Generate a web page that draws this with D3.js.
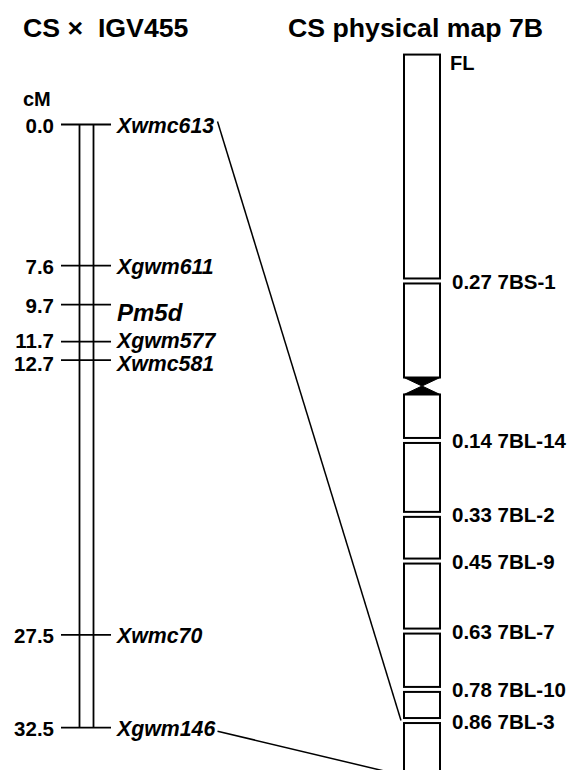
<!DOCTYPE html>
<html><head><meta charset="utf-8">
<script src="https://cdn.jsdelivr.net/npm/d3@7"></script>
<style>
html,body{margin:0;padding:0;background:#fff;}
svg{display:block;font-family:"Liberation Sans",Arial,Helvetica,sans-serif;}
text{white-space:pre;}
</style></head>
<body>
<svg id="chart" width="581" height="770"></svg>
<script>
// ---- genetic map data (CS x IGV455) ----
const markerNames = ["Xwmc613","Xgwm611","Pm5d","Xgwm577","Xwmc581","Xwmc70","Xgwm146"];
const markerCM    = [0.0, 7.6, 9.7, 11.7, 12.7, 27.5, 32.5];
const markerLabels = ["0.0","7.6","9.7","11.7","12.7","27.5","32.5"];
const geneMarker = "Pm5d";
// small label nudges (px) used to keep the two crowded labels apart
const labelNudge = [0, 0, 0, -2.5, 2, 0, 0];

// ---- physical map data (CS deletion bins, 7B) ----
// fraction-length breakpoints; negative = short arm, positive = long arm (centromere = 0)
const breakLabels = ["0.27 7BS-1","0.14 7BL-14","0.33 7BL-2","0.45 7BL-9","0.63 7BL-7","0.78 7BL-10","0.86 7BL-3"];
const breakFL     = [-0.27, 0.14, 0.33, 0.45, 0.63, 0.78, 0.86];
const shortArmEnd = -0.852;   // short-arm terminus relative to long arm length
const longArmEnd  = 1.0;
// connecting lines: marker -> physical position
const linkMarkers = ["Xwmc613","Xgwm146"];
const linkFL      = [0.86, 1.0];

const titles = ["CS \u00D7  IGV455", "CS physical map 7B"];

const svg = d3.select("#chart");

// scales
const yG = d3.scaleLinear().domain([0, 32.5]).range([124.5, 727.7]);
const yP = d3.scaleLinear().domain([0, 1]).range([386, 775]);

// titles
svg.append("text").attr("x", 23).attr("y", 37).attr("font-size", 26.7).attr("font-weight", "bold").text(titles[0]);
svg.append("text").attr("x", 288).attr("y", 37).attr("font-size", 26.7).attr("font-weight", "bold").text(titles[1]);

// ---------- genetic map ----------
const gx1 = 79.5, gx2 = 93.5, tickL = 61, tickR = 111;
const g = svg.append("g");
g.append("text").attr("x", 23).attr("y", 106).attr("font-size", 20).attr("font-weight", "bold").text("cM");
[gx1, gx2].forEach(x => g.append("line").attr("x1", x).attr("x2", x)
  .attr("y1", yG(d3.min(markerCM))).attr("y2", yG(d3.max(markerCM)))
  .attr("stroke", "#000").attr("stroke-width", 1.8));

const rows = markerNames.map((n, i) => ({name: n, cm: markerCM[i], lab: markerLabels[i], dy: labelNudge[i]}));
g.selectAll(".tick").data(rows).join("line")
  .attr("x1", tickL).attr("x2", tickR)
  .attr("y1", d => yG(d.cm)).attr("y2", d => yG(d.cm))
  .attr("stroke", "#000").attr("stroke-width", 1.8);
g.selectAll(".cm").data(rows).join("text")
  .attr("x", 54).attr("y", d => yG(d.cm) + 8.5 + d.dy)
  .attr("text-anchor", "end").attr("font-size", 20.5).attr("font-weight", "bold")
  .text(d => d.lab);
g.selectAll(".mk").data(rows).join("text")
  .attr("x", 117).attr("y", d => yG(d.cm) + (d.name === geneMarker ? 16 : 8.5) + d.dy)
  .attr("font-size", d => d.name === geneMarker ? 24 : 21.3)
  .attr("font-weight", "bold").attr("font-style", "italic")
  .text(d => d.name);

// ---------- physical map ----------
const cx0 = 404, cx1 = 440, gap = 2.5, cenH = 8.5;
const p = svg.append("g");
const topY = yP(shortArmEnd), botY = yP(longArmEnd), cenY = yP(0);
const shortBreaks = breakFL.filter(v => v < 0).sort(d3.ascending);
const longBreaks = breakFL.filter(v => v > 0).sort(d3.ascending);
const segs = [];
let start = topY;
shortBreaks.forEach(b => { segs.push([start, yP(b) - gap]); start = yP(b) + gap; });
segs.push([start, cenY - cenH]);
start = cenY + cenH;
longBreaks.forEach(b => { segs.push([start, yP(b) - gap]); start = yP(b) + gap; });
segs.push([start, botY]);

p.selectAll(".seg").data(segs).join("rect")
  .attr("x", cx0).attr("width", cx1 - cx0)
  .attr("y", d => d[0]).attr("height", d => d[1] - d[0])
  .attr("fill", "#fff").attr("stroke", "#000").attr("stroke-width", 2);
// centromere bowtie
p.append("path")
  .attr("d", `M${cx0},${cenY - cenH}L${cx1},${cenY - cenH}L${(cx0+cx1)/2},${cenY}L${cx1},${cenY + cenH}L${cx0},${cenY + cenH}L${(cx0+cx1)/2},${cenY}Z`)
  .attr("fill", "#000").attr("stroke", "#000").attr("stroke-width", 1);

// labels
p.append("text").attr("x", 450).attr("y", 69.5).attr("font-size", 20).attr("font-weight", "bold").text("FL");
p.selectAll(".bl").data(breakLabels.map((l, i) => ({l, v: breakFL[i]}))).join("text")
  .attr("x", 452).attr("y", d => yP(d.v) + 8)
  .attr("font-size", 20.5).attr("font-weight", "bold").text(d => d.l);

// connecting lines
const textEnd = 217.5;
linkMarkers.forEach((m, i) => {
  const cm = markerCM[markerNames.indexOf(m)];
  svg.append("line")
    .attr("x1", textEnd).attr("y1", yG(cm) + (i === 0 ? -3 : 3.5))
    .attr("x2", cx0 - 3).attr("y2", yP(linkFL[i]))
    .attr("stroke", "#000").attr("stroke-width", 1.5);
});
</script>
</body></html>
